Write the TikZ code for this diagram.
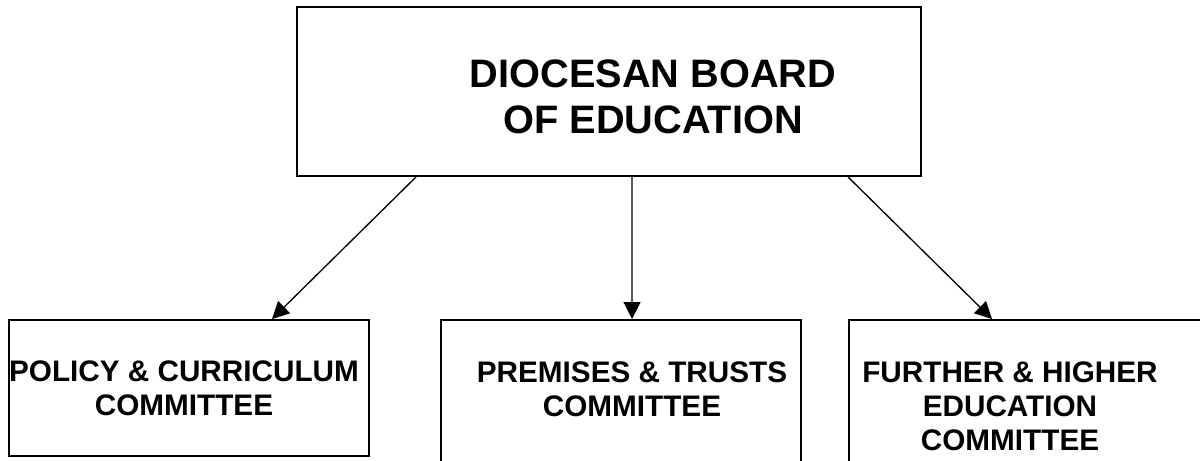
\documentclass[tikz,border=0pt]{standalone}
\usepackage{fontspec}
\setmainfont{Liberation Sans}
\usetikzlibrary{arrows.meta,positioning,calc}

\begin{document}
\begin{tikzpicture}[
    board/.style={draw,line width=1.1pt,minimum width=12.48cm,minimum height=3.38cm,inner sep=0pt},
    committee/.style={draw,line width=1.1pt,minimum width=7.2cm,inner sep=0pt},
    bigtext/.style={font=\fontsize{22.6}{26.2}\selectfont\bfseries,align=center,inner sep=0pt},
    smalltext/.style={font=\fontsize{16.9}{19.4}\selectfont\bfseries,align=center,inner sep=0pt},
    link/.style={-{Triangle[length=0.34cm,width=0.34cm]},line width=0.75pt}
  ]
    \clip (0,0) rectangle (24,9.2);
    % Board at the top
    \node[board] (board) at (12.18,7.37) {};
    \node[bigtext] (boardtext) at (13.06,7.26) {DIOCESAN BOARD\\OF EDUCATION};

    % Committees
    \node[committee,minimum height=2.72cm] (policy) at (3.78,1.44) {};
    \node[committee,minimum height=3.2cm] (premises) at (12.42,1.2) {};
    \node[committee,minimum height=3.2cm] (further) at (20.58,1.2) {};
    \node[smalltext] (policytext) at (3.68,1.44) {POLICY \& CURRICULUM\\COMMITTEE};
    \node[smalltext] (premisestext) at (12.64,1.41) {PREMISES \& TRUSTS\\COMMITTEE};
    \node[smalltext] (furthertext) at (20.2,1.08) {FURTHER \& HIGHER\\EDUCATION\\COMMITTEE};

    % Arrows
    \draw[link] ($(board.south west)+(2.4,0)$) -- ($(policy.north west)+(5.28,0)$);
    \draw[link] ($(board.south west)+(6.72,0)$) -- ($(premises.north west)+(3.84,0)$);
    \draw[link] ($(board.south west)+(11.04,0)$) -- ($(further.north west)+(2.88,0)$);
  \end{tikzpicture}
\end{document}
